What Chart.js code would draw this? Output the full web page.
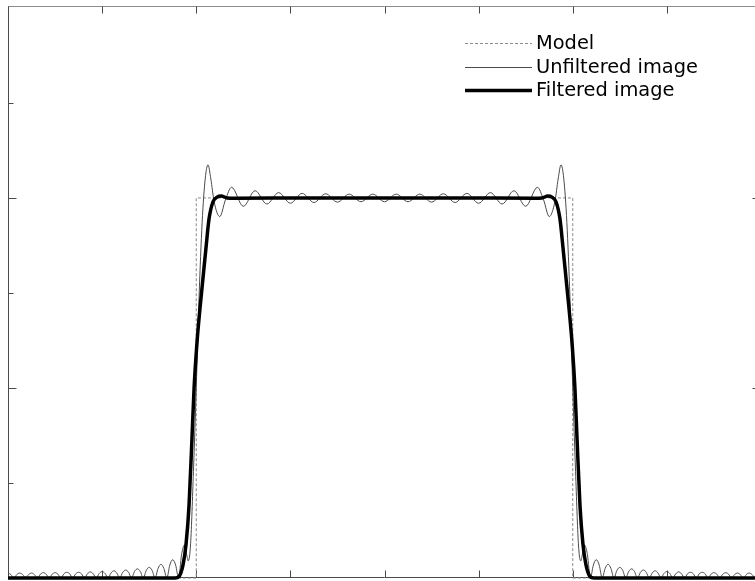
<!DOCTYPE html>
<html>
<head>
<meta charset="utf-8">
<script src="https://cdn.jsdelivr.net/npm/chart.js@4.4.1/dist/chart.umd.min.js"></script>
<style>
  html, body { margin: 0; padding: 0; background: #fff; overflow: hidden; }
  #wrap { width: 770px; height: 581px; }
</style>
</head>
<body>
<div id="wrap"><canvas id="profile" width="770" height="581"></canvas></div>
<script>
// axis layout (no tick labels, ticks drawn inward)
const xTicks = [0, 1, 2, 3, 4, 5, 6, 7, 8]
const yTicks = [0.25, 0.5, 0.75, 1, 1.25]
const yLongTicks = [0.5, 1]

const seriesNames = ["Model", "Unfiltered image", "Filtered image"]

// ideal box profile
const modelPoints = [
  [0, 0], [2, 0], [2, 1], [6, 1], [6, 0], [8, 0],
]

// magnitude of the truncated reconstruction (ringing)
const unfilteredPoints = [
  [0, 0.013], [0.031, 0.009], [0.0625, 0], [0.094, 0.009],
  [0.125, 0.013], [0.156, 0.009], [0.1875, 0], [0.219, 0.009],
  [0.25, 0.013], [0.281, 0.009], [0.3125, 0], [0.344, 0.010],
  [0.375, 0.014], [0.406, 0.010], [0.4375, 0], [0.469, 0.010],
  [0.5, 0.014], [0.531, 0.010], [0.5625, 0], [0.594, 0.011],
  [0.625, 0.015], [0.656, 0.011], [0.6875, 0], [0.719, 0.011],
  [0.75, 0.015], [0.781, 0.011], [0.8125, 0], [0.844, 0.011],
  [0.875, 0.016], [0.906, 0.011], [0.9375, 0], [0.969, 0.012],
  [1.0, 0.017], [1.031, 0.012], [1.0625, 0], [1.094, 0.013],
  [1.125, 0.019], [1.156, 0.013], [1.1875, 0], [1.219, 0.015],
  [1.25, 0.021], [1.281, 0.015], [1.3125, 0], [1.344, 0.017],
  [1.375, 0.024], [1.406, 0.017], [1.4375, 0], [1.469, 0.020],
  [1.5, 0.028], [1.531, 0.020], [1.5625, 0], [1.594, 0.025],
  [1.625, 0.036], [1.656, 0.025], [1.6875, 0], [1.719, 0.034],
  [1.75, 0.048], [1.781, 0.034], [1.8125, 0], [1.844, 0.061],
  [1.875, 0.087], [1.898, 0.062], [1.915, 0.045], [1.94, 0.09],
  [1.97, 0.28], [2.0, 0.5], [2.03, 0.74], [2.0625, 0.935], [2.095, 1.05],
  [2.125, 1.087], [2.155, 1.05], [2.19, 0.99], [2.25, 0.951], [2.31, 0.995],
  [2.375, 1.028], [2.5, 0.978], [2.625, 1.019], [2.75, 0.984], [2.875, 1.014],
  [3.0, 0.986], [3.125, 1.012], [3.25, 0.988], [3.375, 1.011], [3.5, 0.989],
  [3.625, 1.010], [3.75, 0.990], [3.875, 1.010], [4.0, 0.990],
  [4.125, 1.010], [4.25, 0.990], [4.375, 1.010], [4.5, 0.989], [4.625, 1.011],
  [4.75, 0.988], [4.875, 1.012], [5.0, 0.986], [5.125, 1.014], [5.25, 0.984],
  [5.375, 1.019], [5.5, 0.978], [5.625, 1.028], [5.69, 0.995], [5.75, 0.951],
  [5.81, 0.99], [5.845, 1.05], [5.875, 1.087], [5.905, 1.05], [5.9375, 0.935],
  [5.97, 0.74], [6.0, 0.5], [6.03, 0.28], [6.06, 0.09], [6.085, 0.045],
  [6.102, 0.062], [6.125, 0.087], [6.156, 0.061], [6.1875, 0], [6.219, 0.034],
  [6.25, 0.048], [6.281, 0.034], [6.3125, 0], [6.344, 0.025],
  [6.375, 0.036], [6.406, 0.025], [6.4375, 0], [6.469, 0.020],
  [6.5, 0.028], [6.531, 0.020], [6.5625, 0], [6.594, 0.017],
  [6.625, 0.024], [6.656, 0.017], [6.6875, 0], [6.719, 0.015],
  [6.75, 0.021], [6.781, 0.015], [6.8125, 0], [6.844, 0.013],
  [6.875, 0.019], [6.906, 0.013], [6.9375, 0], [6.969, 0.012],
  [7.0, 0.017], [7.031, 0.012], [7.0625, 0], [7.094, 0.011],
  [7.125, 0.016], [7.156, 0.011], [7.1875, 0], [7.219, 0.011],
  [7.25, 0.015], [7.281, 0.011], [7.3125, 0], [7.344, 0.011],
  [7.375, 0.015], [7.406, 0.011], [7.4375, 0], [7.469, 0.010],
  [7.5, 0.014], [7.531, 0.010], [7.5625, 0], [7.594, 0.010],
  [7.625, 0.014], [7.656, 0.010], [7.6875, 0], [7.719, 0.009],
  [7.75, 0.013], [7.781, 0.009], [7.8125, 0], [7.844, 0.009],
  [7.875, 0.013], [7.906, 0.009], [7.9375, 0], [7.969, 0.009],
  [8.0, 0.013],
]

// after filtering: smooth edges, almost no overshoot
const filteredPoints = [
  [0, 0], [1.775, 0], [1.817, 0.004], [1.860, 0.035], [1.892, 0.09],
  [1.923, 0.19], [1.955, 0.37], [1.977, 0.50], [2.008, 0.62], [2.040, 0.71],
  [2.072, 0.79], [2.104, 0.87], [2.136, 0.945], [2.178, 0.99], [2.221, 1.002],
  [2.264, 1.005], [2.327, 1.0], [2.412, 0.999], [3.2, 1.0], [4.8, 1.0],
  [5.588, 0.999], [5.673, 1.0], [5.736, 1.005], [5.779, 1.002], [5.822, 0.99],
  [5.864, 0.945], [5.896, 0.87], [5.928, 0.79], [5.960, 0.71], [5.992, 0.62],
  [6.023, 0.50], [6.045, 0.37], [6.077, 0.19], [6.108, 0.09], [6.140, 0.035],
  [6.183, 0.004], [6.225, 0], [8, 0],
]

const toXY = (pts) => pts.map(([x, y]) => ({ x, y }))

// box frame with inward ticks on all four sides
const framePlugin = {
  id: "frame",
  beforeDatasetsDraw(chart) {
    const { ctx, chartArea: a, scales } = chart
    const L = a.left + 0.5, R = a.right - 0.5, T = a.top + 0.5, B = a.bottom - 0.5
    ctx.save()
    ctx.lineWidth = 1
    ctx.strokeStyle = "#8c8c8c"
    ctx.beginPath()
    ctx.moveTo(L, T)
    ctx.lineTo(R, T)
    ctx.stroke()
    ctx.strokeStyle = "#4a4a4a"
    ctx.beginPath()
    ctx.moveTo(L, T)
    ctx.lineTo(L, B)
    ctx.lineTo(R, B)
    ctx.lineTo(R, T)
    ctx.stroke()

    ctx.beginPath()
    xTicks.forEach((v) => {
      const px = Math.round(scales.x.getPixelForValue(v)) + 0.5
      ctx.moveTo(px, T)
      ctx.lineTo(px, T + 7)
      ctx.moveTo(px, B)
      ctx.lineTo(px, B - 7)
    })
    yTicks.forEach((v) => {
      const py = Math.round(scales.y.getPixelForValue(v)) + 0.5
      const long = yLongTicks.includes(v)
      ctx.moveTo(L, py)
      ctx.lineTo(L + (long ? 8 : 5), py)
      ctx.moveTo(R, py)
      ctx.lineTo(R - (long ? 8 : 4), py)
    })
    ctx.stroke()
    ctx.restore()
  },
}

// legend in the upper right, line sample then label
const legendPlugin = {
  id: "boxLegend",
  afterDraw(chart) {
    const { ctx } = chart
    const x0 = 465, x1 = 532, textX = 536
    const rows = [43, 67, 90]
    ctx.save()
    ctx.font = "20px 'DejaVu Sans'"
    const sx = 162 / ctx.measureText("Unfiltered image").width
    chart.data.datasets.forEach((ds, i) => {
      const y = rows[i] + 0.5
      ctx.strokeStyle = ds.borderColor
      ctx.lineWidth = ds.borderWidth
      ctx.setLineDash(ds.borderDash || [])
      ctx.beginPath()
      ctx.moveTo(x0, y)
      ctx.lineTo(x1, y)
      ctx.stroke()
      ctx.setLineDash([])
      ctx.save()
      ctx.translate(textX, rows[i] + 5.5)
      ctx.scale(sx, 1)
      ctx.fillStyle = "#000"
      ctx.textBaseline = "alphabetic"
      ctx.fillText(ds.label, 0, 0)
      ctx.restore()
    })
    ctx.restore()
  },
}

new Chart(document.getElementById("profile"), {
  type: "line",
  data: {
    datasets: [
      {
        label: seriesNames[0],
        data: toXY(modelPoints),
        borderColor: "#8a8a8a",
        borderWidth: 1,
        borderDash: [3, 2],
        order: 3,
      },
      {
        label: seriesNames[1],
        data: toXY(unfilteredPoints),
        borderColor: "#4a4a4a",
        borderWidth: 1,
        cubicInterpolationMode: "monotone",
        order: 2,
      },
      {
        label: seriesNames[2],
        data: toXY(filteredPoints),
        borderColor: "#000",
        borderWidth: 3.5,
        cubicInterpolationMode: "monotone",
        order: 1,
      },
    ],
  },
  options: {
    responsive: false,
    animation: false,
    devicePixelRatio: 1,
    layout: { padding: { left: 8, right: 9, top: 6, bottom: 3 } },
    elements: { point: { radius: 0 }, line: { tension: 0 } },
    datasets: { line: { clip: false } },
    scales: {
      x: { type: "linear", min: 0, max: 8, display: false },
      y: { type: "linear", min: 0, max: 1.505, display: false },
    },
    plugins: {
      legend: { display: false },
      tooltip: { enabled: false },
    },
  },
  plugins: [framePlugin, legendPlugin],
})
</script>
</body>
</html>
